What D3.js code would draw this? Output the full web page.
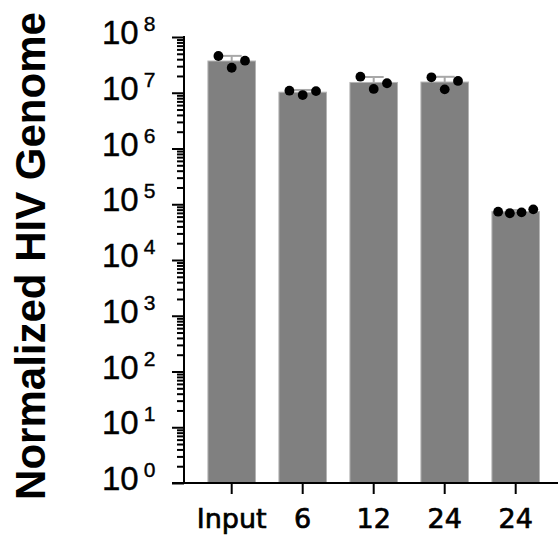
<!DOCTYPE html>
<html>
<head>
<meta charset="utf-8">
<script src="https://cdnjs.cloudflare.com/ajax/libs/d3/7.8.5/d3.min.js"></script>
<style>
  body { margin: 0; background: #fff; }
  svg { display: block; }
</style>
</head>
<body>
<div class="chart"></div>
<script>
//data
const categories = ["Input", "6", "12", "24", "24"];
// replicate values per group
const replicates = [
  [4.56e7, 2.81e7, 3.76e7],
  [1.09e7, 0.91e7, 1.07e7],
  [1.94e7, 1.17e7, 1.48e7],
  [1.89e7, 1.15e7, 1.63e7],
  [7.35e4, 6.9e4, 7.15e4, 8.1e4]
];
const yExponents = [0, 1, 2, 3, 4, 5, 6, 7, 8];
const yTitle = "Normalized HIV Genome";

//dimensions
const width = 559, height = 539;
const axisX = 184, axisTop = 37, axisBottom = 483;

const svg = d3.select(".chart")
  .append("svg")
  .attr("width", width)
  .attr("height", height);

const x = d3.scaleBand()
  .domain(d3.range(categories.length))
  .range([196.2, 551.2])
  .paddingInner(0.33)
  .paddingOuter(0.165);

const y = d3.scaleLog()
  .domain([1, 1e8])
  .range([axisBottom, axisTop]);

// mean and SD of each group
const stats = replicates.map((vals, i) => {
  return { i: i, mean: d3.mean(vals), sd: d3.deviation(vals), vals: vals };
});

// bars
svg.append("g")
  .selectAll("rect")
  .data(stats)
  .enter().append("rect")
  .attr("x", d => x(d.i))
  .attr("y", d => y(d.mean))
  .attr("width", x.bandwidth())
  .attr("height", d => axisBottom - y(d.mean))
  .attr("fill", "#808080")
  .attr("stroke", "#b4b4b4")
  .attr("stroke-width", 1);

// error bars (SD, upward only)
const err = svg.append("g")
  .attr("stroke", "#a8a8a8")
  .attr("stroke-width", 2);
stats.forEach(d => {
  const cx = x(d.i) + x.bandwidth() / 2;
  const top = y(d.mean + d.sd);
  err.append("line")
    .attr("x1", cx).attr("x2", cx)
    .attr("y1", y(d.mean)).attr("y2", top);
  err.append("line")
    .attr("x1", cx - 10).attr("x2", cx + 10)
    .attr("y1", top).attr("y2", top);
});

// points
const dotStep = { 3: 13.3, 4: 11.7 };
const dots = svg.append("g");
stats.forEach(d => {
  const cx = x(d.i) + x.bandwidth() / 2;
  const n = d.vals.length;
  dots.selectAll(null)
    .data(d.vals)
    .enter().append("circle")
    .attr("cx", (v, j) => cx + (j - (n - 1) / 2) * dotStep[n])
    .attr("cy", v => y(v))
    .attr("r", 4.9)
    .attr("fill", "#000");
});

// y axis ticks
const majors = yExponents.map(e => Math.pow(10, e));
const minors = [];
yExponents.slice(0, -1).forEach(e => {
  for (let k = 2; k < 10; k++) minors.push(k * Math.pow(10, e));
});

svg.append("g")
  .attr("transform", "translate(" + axisX + ",0)")
  .call(d3.axisLeft(y).tickValues(minors).tickSize(7).tickFormat(""))
  .call(g => g.select(".domain").remove())
  .call(g => g.selectAll("line").attr("stroke", "#000").attr("stroke-width", 2));

svg.append("g")
  .attr("transform", "translate(" + axisX + ",0)")
  .call(d3.axisLeft(y).tickValues(majors).tickSize(12).tickFormat(""))
  .call(g => g.select(".domain").remove())
  .call(g => g.selectAll("line").attr("stroke", "#000").attr("stroke-width", 2));

// axis lines
svg.append("line")
  .attr("x1", axisX).attr("x2", axisX)
  .attr("y1", axisTop - 1).attr("y2", axisBottom + 1)
  .attr("stroke", "#000").attr("stroke-width", 2);
svg.append("line")
  .attr("x1", axisX - 12).attr("x2", 558)
  .attr("y1", axisBottom).attr("y2", axisBottom)
  .attr("stroke", "#000").attr("stroke-width", 2);

// y tick labels 10^n
const ylab = svg.append("g")
  .attr("font-family", "'Liberation Sans', Arial, sans-serif")
  .attr("fill", "#000")
  .attr("stroke", "#000")
  .attr("stroke-width", 0.4);
yExponents.forEach(e => {
  const t = ylab.append("text")
    .attr("x", 102)
    .attr("y", y(Math.pow(10, e)) + 7)
    .attr("font-size", 33);
  t.append("tspan").text("10");
  t.append("tspan")
    .attr("dx", 5)
    .attr("dy", -13)
    .attr("font-size", 21)
    .text(e);
});

// x ticks + labels
svg.append("g")
  .attr("transform", "translate(0," + axisBottom + ")")
  .call(d3.axisBottom(x).tickSize(11).tickSizeOuter(0).tickFormat(i => categories[i]))
  .call(g => g.select(".domain").remove())
  .call(g => g.selectAll("line").attr("stroke", "#000").attr("stroke-width", 2))
  .call(g => g.selectAll("text")
    .attr("y", 45)
    .attr("dy", 0)
    .attr("fill", "#000")
    .attr("stroke", "#000")
    .attr("stroke-width", 0.7)
    .style("font-family", "'DejaVu Sans', sans-serif")
    .style("font-size", "27px"));

// y title
svg.append("text")
  .attr("transform", "translate(45,256) rotate(-90)")
  .attr("text-anchor", "middle")
  .style("font-family", "'Liberation Sans', Arial, sans-serif")
  .style("font-weight", "bold")
  .style("font-size", "42px")
  .text(yTitle);
</script>
</body>
</html>
